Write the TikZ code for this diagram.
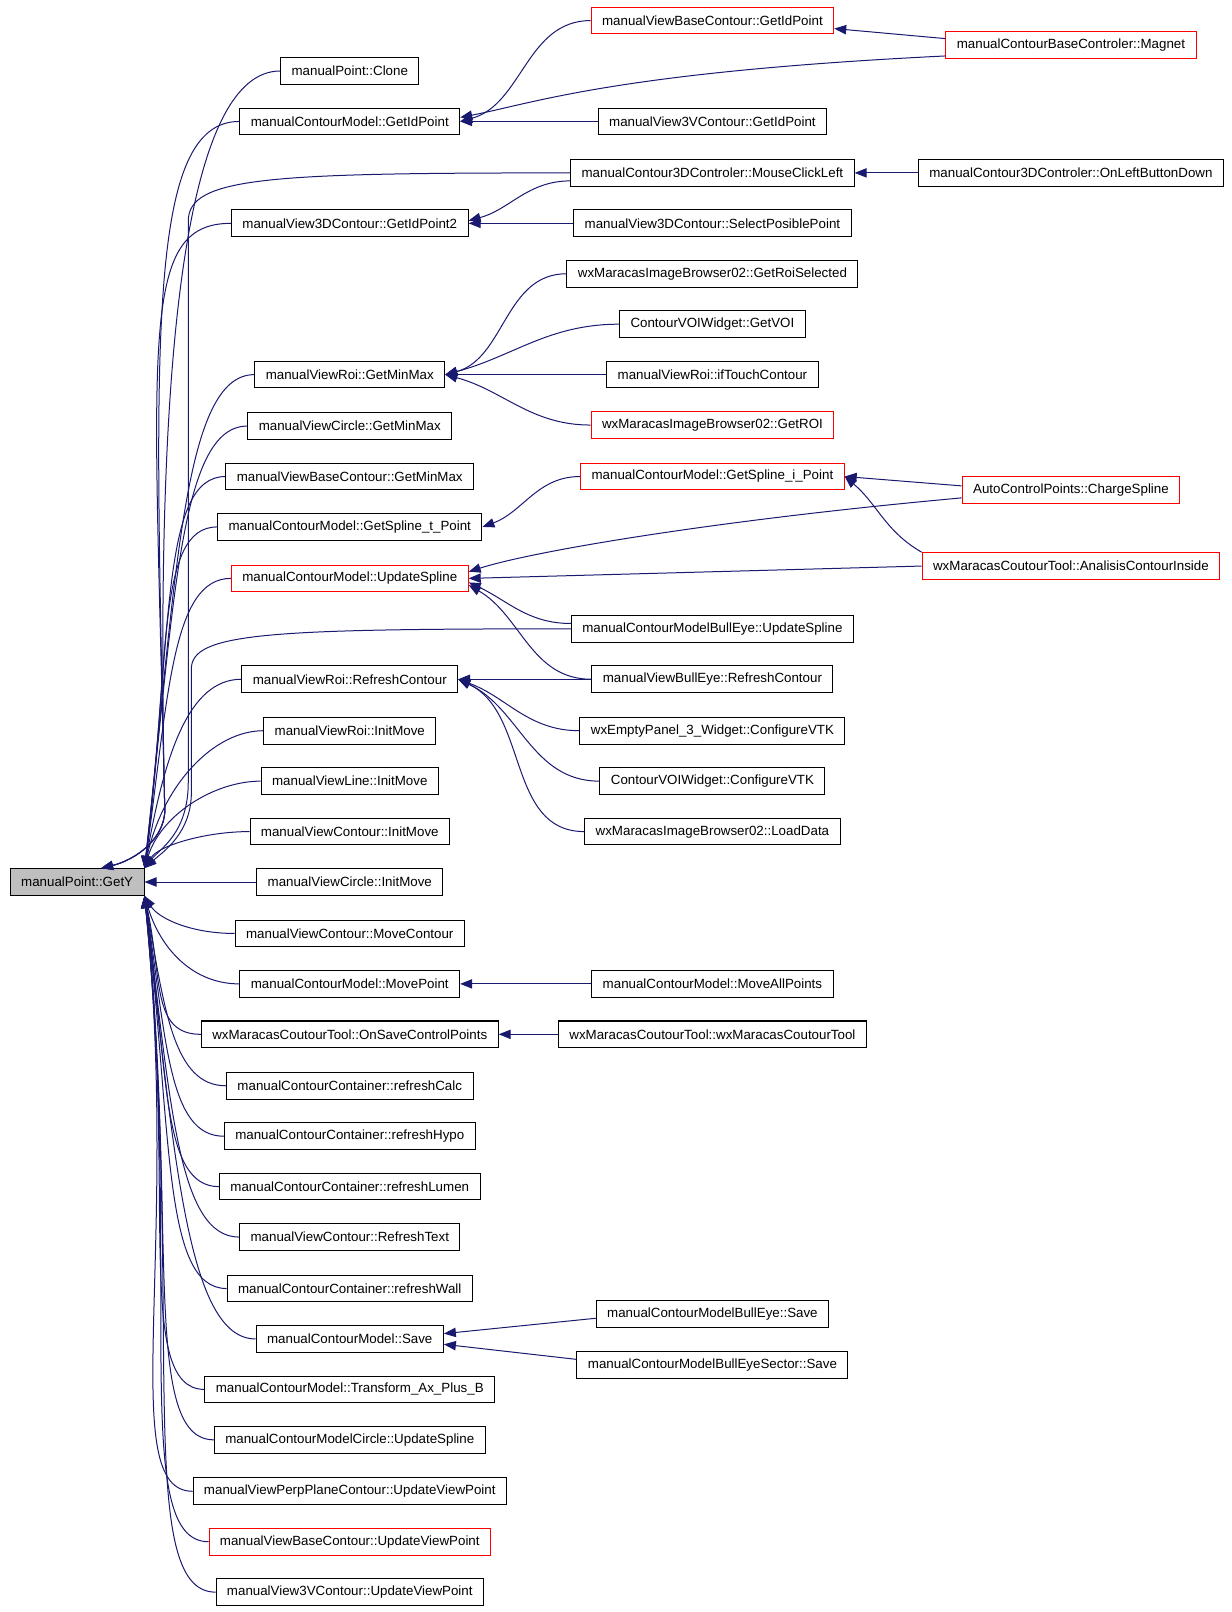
\documentclass[tikz,border=0pt]{standalone}
\usepackage{fontspec}
\setmainfont{Liberation Sans}
\usetikzlibrary{arrows.meta}
\definecolor{edgeblue}{RGB}{25,25,112}

\begin{document}
\begin{tikzpicture}[x=0.7715pt,y=0.7718pt,
    box/.style={draw,line width=0.75pt,inner xsep=8.2pt,inner ysep=0pt,minimum height=20pt,font=\fontsize{10}{12}\selectfont},
    call/.style={draw=edgeblue,line width=0.75pt,-{Triangle[length=9pt,width=7pt]}}]
    \useasboundingbox (0,0) rectangle (1197,-1566.3);
    \node[box,fill=gray!50] (gety) at (75,-857) {manualPoint::GetY};
    \foreach \n/\y/\c/\t in {clone/69/black/manualPoint::Clone,
        getid/118/black/manualContourModel::GetIdPoint,
        getid2/217/black/manualView3DContour::GetIdPoint2,
        roiminmax/364/black/manualViewRoi::GetMinMax,
        circminmax/414/black/manualViewCircle::GetMinMax,
        baseminmax/463/black/manualViewBaseContour::GetMinMax,
        splinet/512/black/manualContourModel::GetSpline\_t\_Point,
        updspline/562/red/manualContourModel::UpdateSpline,
        roirefresh/660/black/manualViewRoi::RefreshContour,
        roiinit/710/black/manualViewRoi::InitMove,
        lineinit/759/black/manualViewLine::InitMove,
        continit/808/black/manualViewContour::InitMove,
        circinit/857/black/manualViewCircle::InitMove,
        movecont/907/black/manualViewContour::MoveContour,
        movepoint/956/black/manualContourModel::MovePoint,
        savectrl/1005/black/wxMaracasCoutourTool::OnSaveControlPoints,
        refcalc/1055/black/manualContourContainer::refreshCalc,
        refhypo/1104/black/manualContourContainer::refreshHypo,
        reflumen/1153/black/manualContourContainer::refreshLumen,
        reftext/1202/black/manualViewContour::RefreshText,
        refwall/1252/black/manualContourContainer::refreshWall,
        save/1301/black/manualContourModel::Save,
        transform/1350/black/manualContourModel::Transform\_Ax\_Plus\_B,
        circspline/1399/black/manualContourModelCircle::UpdateSpline,
        perpview/1449/black/manualViewPerpPlaneContour::UpdateViewPoint,
        baseview/1498/red/manualViewBaseContour::UpdateViewPoint,
        view3v/1547/black/manualView3VContour::UpdateViewPoint}
        \node[box,draw=\c] (\n) at (340,-\y) {\t};
    \foreach \n/\y/\c/\t in {basegetid/20/red/manualViewBaseContour::GetIdPoint,
        v3vgetid/118/black/manualView3VContour::GetIdPoint,
        mouseclick/168/black/manualContour3DControler::MouseClickLeft,
        selectpt/217/black/manualView3DContour::SelectPosiblePoint,
        roisel/266/black/wxMaracasImageBrowser02::GetRoiSelected,
        getvoi/315/black/ContourVOIWidget::GetVOI,
        touch/364/black/manualViewRoi::ifTouchContour,
        getroi/413/red/wxMaracasImageBrowser02::GetROI,
        splinei/463/red/manualContourModel::GetSpline\_i\_Point,
        bullspline/611/black/manualContourModelBullEye::UpdateSpline,
        bullrefresh/660/black/manualViewBullEye::RefreshContour,
        emptyvtk/710/black/wxEmptyPanel\_3\_Widget::ConfigureVTK,
        voivtk/759/black/ContourVOIWidget::ConfigureVTK,
        loaddata/808/black/wxMaracasImageBrowser02::LoadData,
        moveall/956/black/manualContourModel::MoveAllPoints,
        tooltool/1005/black/wxMaracasCoutourTool::wxMaracasCoutourTool,
        bullsave/1277/black/manualContourModelBullEye::Save,
        sectorsave/1326/black/manualContourModelBullEyeSector::Save}
        \node[box,draw=\c] (\n) at (692.5,-\y) {\t};
    \foreach \n/\y/\c/\t in {magnet/44/red/manualContourBaseControler::Magnet,
        leftdown/168/black/manualContour3DControler::OnLeftButtonDown,
        charge/476/red/AutoControlPoints::ChargeSpline,
        analisis/550/red/wxMaracasCoutourTool::AnalisisContourInside}
        \node[box,draw=\c] (\n) at (1041,-\y) {\t};

    \foreach \n in {clone,getid,getid2}
        \draw[call] (\n.west) .. controls +(-90,0) and (150,-330) .. (160,-780) .. controls (164,-815) and (130,-836) .. (gety.30);
    \foreach \n/\d in {roiminmax/481,circminmax/431,baseminmax/382,splinet/333,updspline/283,roirefresh/185,roiinit/135,lineinit/86,continit/37}
        \draw[call] (\n.west) .. controls +({-40-0.06*\d},0) and +({12+0.04*\d},{0.6*\d}) .. (gety.north east);
    \foreach \n/\d in {movecont/37,movepoint/86,savectrl/135,refcalc/185,refhypo/234,reflumen/283,reftext/332,refwall/382,save/431,transform/480,circspline/529,perpview/579,baseview/628,view3v/677}
        \draw[call] (\n.west) .. controls +({-40-0.06*\d},0) and +({12+0.04*\d},{-0.6*\d}) .. (gety.south east);
    \draw[call] (circinit.west) -- (gety.east);
    \draw[call] (mouseclick.west) .. controls (260,-168) and (183,-172) .. (183,-215) -- (183,-760) .. controls (183,-810) and (155,-825) .. (gety.north east);
    \draw[call] (bullspline.west) .. controls (260,-611) and (186,-615) .. (186,-650) -- (186,-770) .. controls (186,-810) and (158,-828) .. (gety.north east);

    \draw[call] (basegetid.west) to[out=180,in=15] (getid.east);
    \draw[call] ([yshift=5pt]magnet.west) -- ([yshift=-6pt]basegetid.east);
    \draw[call] ([yshift=-8pt]magnet.west) .. controls (600,-70) and (520,-100) .. ([yshift=3pt]getid.east);
    \draw[call] (v3vgetid.west) -- (getid.east);
    \draw[call] (leftdown.west) -- (mouseclick.east);
    \draw[call] ([yshift=-6pt]mouseclick.west) to[out=180,in=15] ([yshift=2pt]getid2.east);
    \draw[call] (selectpt.west) -- (getid2.east);
    \draw[call] (roisel.west) to[out=180,in=15] (roiminmax.east);
    \draw[call] (getvoi.west) to[out=180,in=15] (roiminmax.east);
    \draw[call] (touch.west) -- (roiminmax.east);
    \draw[call] (getroi.west) to[out=180,in=-15] (roiminmax.east);
    \draw[call] (splinei.west) to[out=180,in=20] (splinet.east);
    \draw[call] ([yshift=3pt]charge.west) -- (splinei.east);
    \draw[call] (analisis.north west) to[out=150,in=-40] (splinei.east);
    \draw[call] ([yshift=-6pt]charge.west) .. controls (700,-505) and (520,-535) .. ([yshift=5pt]updspline.east);
    \draw[call] (analisis.west) -- (updspline.east);
    \draw[call] ([yshift=4pt]bullspline.west) to[out=180,in=-25] ([yshift=-3pt]updspline.east);
    \draw[call] (bullrefresh.west) to[out=180,in=-30] ([yshift=-5pt]updspline.east);
    \draw[call] (bullrefresh.west) -- (roirefresh.east);
    \draw[call] (emptyvtk.west) to[out=180,in=-20] (roirefresh.east);
    \draw[call] (voivtk.west) to[out=180,in=-25] (roirefresh.east);
    \draw[call] (loaddata.west) to[out=180,in=-25] (roirefresh.east);
    \draw[call] (moveall.west) -- (movepoint.east);
    \draw[call] (tooltool.west) -- (savectrl.east);
    \draw[call] ([yshift=-3pt]bullsave.west) -- ([yshift=4pt]save.east);
    \draw[call] ([yshift=4pt]sectorsave.west) -- ([yshift=-4pt]save.east);
\end{tikzpicture}
\end{document}
